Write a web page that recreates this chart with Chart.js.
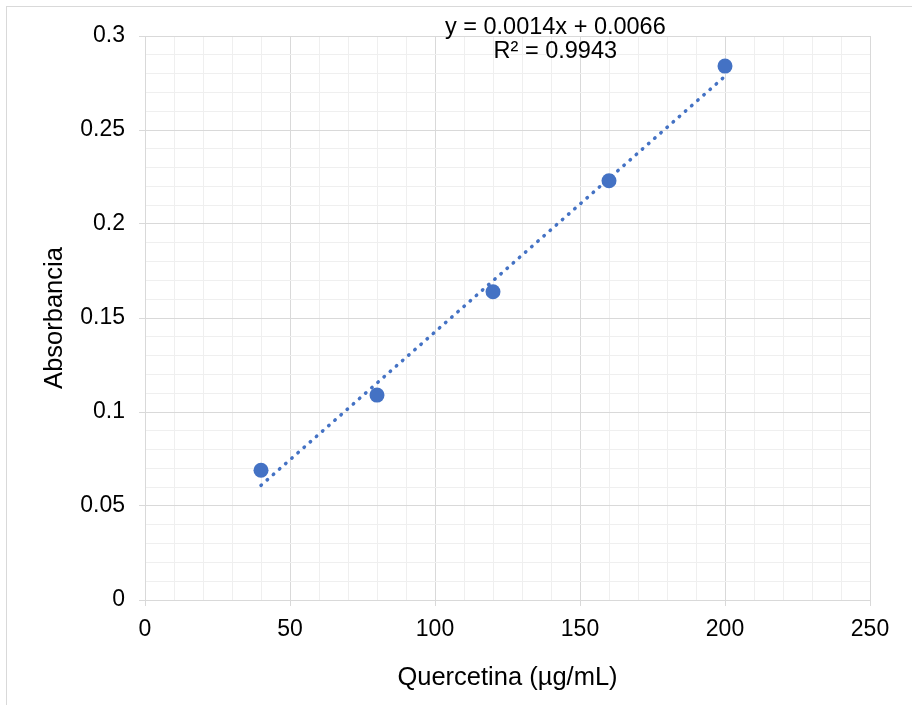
<!DOCTYPE html>
<html>
<head>
<meta charset="utf-8">
<script src="https://cdn.jsdelivr.net/npm/chart.js@4/dist/chart.umd.min.js"></script>
<style>
  html, body { margin:0; padding:0; background:#fff; }
  #wrap { width:912px; height:705px; position:relative; }
</style>
</head>
<body>
<div id="wrap"><canvas id="c" width="912" height="705"></canvas></div>
<script>
// data
const concentrations = [40, 80, 120, 160, 200];
const absorbances = [0.069, 0.109, 0.164, 0.223, 0.284];
// trendline ends (as drawn)
const trendX = [40, 200];
const trendY = [0.061, 0.2786];
const eqLabel = 'y = 0.0014x + 0.0066';
const r2Label = 'R² = 0.9943';
const xTitle = 'Quercetina (µg/mL)';
const yTitle = 'Absorbancia';

const BLUE = '#4472C4';
const MAJOR = '#d9d9d9';
const MINOR = '#efefef';
const FONT = '"Liberation Sans", Arial, sans-serif';

const isMajor = (v, step) => Math.abs(v/step - Math.round(v/step)) < 1e-6;

const frame = {
  id: 'frame',
  beforeDraw(chart){
    const ctx = chart.ctx;
    ctx.save();
    ctx.fillStyle = '#fff';
    ctx.fillRect(0, 0, chart.width, chart.height);
    ctx.strokeStyle = MAJOR;
    ctx.lineWidth = 1;
    ctx.strokeRect(6.5, 6.5, 1200, 1200);
    ctx.restore();
  },
  afterDraw(chart){
    const ctx = chart.ctx;
    const xs = chart.scales.x;
    ctx.save();
    ctx.fillStyle = '#000';
    ctx.font = '23.5px ' + FONT;
    ctx.textAlign = 'center';
    ctx.textBaseline = 'middle';
    const cx = xs.getPixelForValue(141.5);
    ctx.fillText(eqLabel, cx, chart.chartArea.top - 8);
    ctx.fillText(r2Label, cx, chart.chartArea.top + 16);
    ctx.restore();
  }
};

const pts = concentrations.map((x,i)=>({x, y:absorbances[i]}));
const trend = trendX.map((x,i)=>({x, y:trendY[i]}));

new Chart(document.getElementById('c').getContext('2d'), {
  type: 'scatter',
  data: {
    datasets: [
      { label:'Absorbancia', data: pts, backgroundColor: BLUE, borderColor: BLUE,
        pointRadius: 7.5, pointHoverRadius: 7.5, pointBorderWidth: 0, order: 2 },
      { label:'Lineal', data: trend, showLine: true, pointRadius: 0, borderColor: BLUE,
        borderWidth: 3.5, borderDash: [0.5, 7.7], borderCapStyle: 'round', fill: false, order: 1 }
    ]
  },
  options: {
    responsive: false,
    animation: false,
    layout: { padding: { top: 36, right: 42, left: 0, bottom: 0 } },
    plugins: { legend: { display:false }, tooltip: { enabled:false } },
    scales: {
      x: {
        type: 'linear', min: 0, max: 250,
        afterFit(s){ s.height = 105; },
        ticks: {
          stepSize: 10, autoSkip: false, maxRotation: 0, padding: 10,
          color: '#000', font: { family: FONT, size: 23 },
          callback: v => isMajor(v, 50) ? String(v) : ''
        },
        grid: {
          color: c => isMajor(c.tick.value, 50) ? MAJOR : MINOR,
          tickColor: c => isMajor(c.tick.value, 50) ? MAJOR : 'rgba(0,0,0,0)',
          tickLength: 6, lineWidth: 1
        },
        border: { color: MAJOR },
        title: { display: true, text: xTitle, color: '#000',
          font: { family: FONT, size: 25.5 }, padding: { top: 0, bottom: 12 } }
      },
      y: {
        type: 'linear', min: 0, max: 0.3,
        afterFit(s){ s.width = 145; },
        ticks: {
          stepSize: 0.01, autoSkip: false, padding: 14,
          color: '#000', font: { family: FONT, size: 23 },
          callback: v => isMajor(v, 0.05) ? String(+v.toFixed(2)) : ''
        },
        grid: {
          color: c => isMajor(c.tick.value, 0.05) ? MAJOR : MINOR,
          tickColor: c => isMajor(c.tick.value, 0.05) ? MAJOR : 'rgba(0,0,0,0)',
          tickLength: 6, lineWidth: 1
        },
        border: { color: MAJOR },
        title: { display: true, text: yTitle, color: '#000',
          font: { family: FONT, size: 25.5 }, padding: { top: 40, bottom: 0 } }
      }
    }
  },
  plugins: [frame]
});
</script>
</body>
</html>
